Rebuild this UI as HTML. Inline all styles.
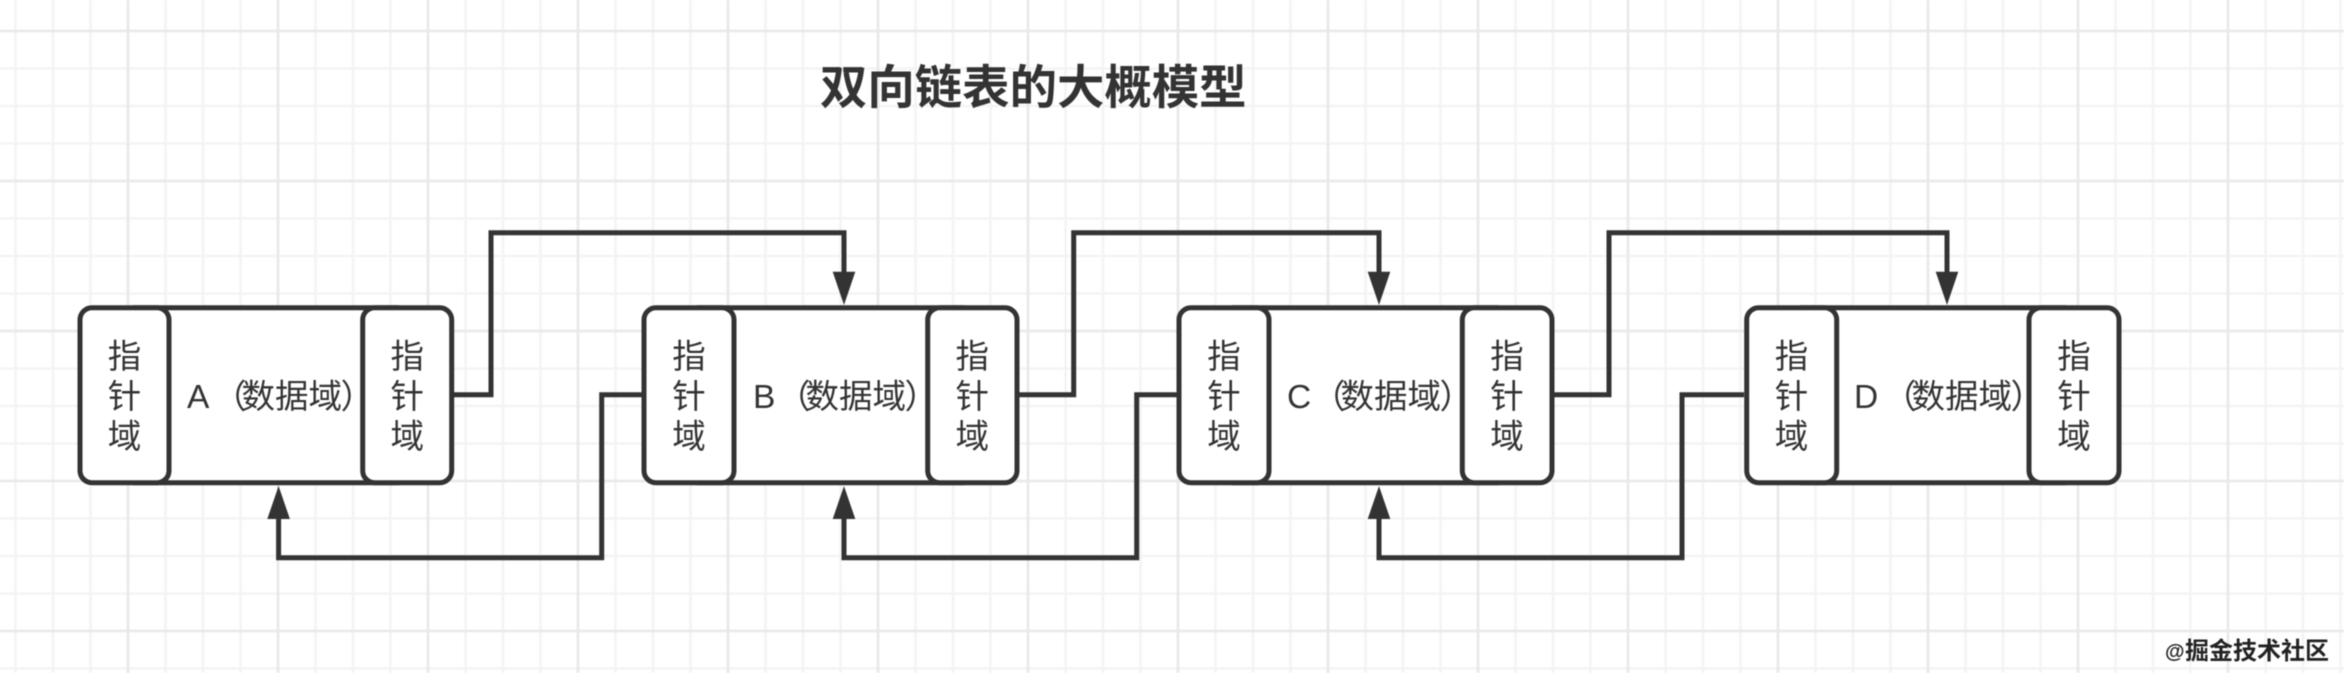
<!DOCTYPE html>
<html><head><meta charset="utf-8"><style>
html,body{margin:0;padding:0;background:#fff;width:2344px;height:673px;overflow:hidden}
svg{display:block;filter:blur(0.5px)}
text{font-family:"Liberation Sans","Noto Sans CJK SC",sans-serif;fill:#333}
.p{font-size:33.5px;text-anchor:middle}
.d{font-size:33.5px}
.b{fill:#fff;stroke:#333;stroke-width:5}
.c{fill:none;stroke:#333;stroke-width:5;stroke-linejoin:miter}
.a{fill:#333}
</style></head><body>
<svg width="2344" height="673" viewBox="0 0 2344 673" xmlns="http://www.w3.org/2000/svg">
<defs>
<pattern id="g1" width="37.5" height="37.5" patternUnits="userSpaceOnUse" patternTransform="translate(-3.25 -25.25)">
<path d="M0 18.75H37.5M18.75 0V37.5" stroke="#f4f4f4" stroke-width="2.6" fill="none"/>
</pattern>
<pattern id="g2" width="150" height="150" patternUnits="userSpaceOnUse" patternTransform="translate(53 -44)">
<path d="M0 75H150M75 0V150" stroke="#e9e9e9" stroke-width="2.6" fill="none"/>
</pattern>
</defs>
<rect width="2344" height="673" fill="#fff"/>
<rect width="2344" height="673" fill="url(#g1)"/>
<rect width="2344" height="673" fill="url(#g2)"/>

<text x="820" y="104" style="font-size:47.4px;font-weight:700">双向链表的大概模型</text>

<!-- connectors -->
<path class="c" d="M452 394.7H491V232.7H844V272"/>
<path class="c" d="M1017 394.7H1073.7V232.7H1379V272"/>
<path class="c" d="M1552 394.7H1609V232.7H1947V272"/>
<path class="c" d="M278.6 519V557.7H601.7V394.7H642"/>
<path class="c" d="M844 519V557.7H1136.7V394.7H1177"/>
<path class="c" d="M1379 519V557.7H1682V394.7H1744"/>
<polygon class="a" points="832.7,271.7 855.3,271.7 844,305"/>
<polygon class="a" points="1367.7,271.7 1390.3,271.7 1379,305"/>
<polygon class="a" points="1935.7,271.7 1958.3,271.7 1947,305"/>
<polygon class="a" points="267.3,519 289.9,519 278.6,486"/>
<polygon class="a" points="832.7,519 855.3,519 844,486"/>
<polygon class="a" points="1367.7,519 1390.3,519 1379,486"/>

<!-- Node A -->
<rect class="b" x="125" y="307.7" width="282" height="175" rx="9"/>
<rect class="b" x="80" y="307.7" width="89" height="175" rx="12"/>
<rect class="b" x="362.7" y="307.7" width="89" height="175" rx="12"/>
<text class="p" x="124.5" y="368">指</text><text class="p" x="124.5" y="408">针</text><text class="p" x="124.5" y="448">域</text>
<text class="p" x="407.2" y="368">指</text><text class="p" x="407.2" y="408">针</text><text class="p" x="407.2" y="448">域</text>
<text class="d" x="187" y="408">A<tspan x="213">（</tspan><tspan x="241.5">数据域</tspan><tspan x="340.5">）</tspan></text>

<!-- Node B -->
<rect class="b" x="689" y="307.7" width="283" height="175" rx="9"/>
<rect class="b" x="644" y="307.7" width="90" height="175" rx="12"/>
<rect class="b" x="927.7" y="307.7" width="89.3" height="175" rx="12"/>
<text class="p" x="689" y="368">指</text><text class="p" x="689" y="408">针</text><text class="p" x="689" y="448">域</text>
<text class="p" x="972.3" y="368">指</text><text class="p" x="972.3" y="408">针</text><text class="p" x="972.3" y="448">域</text>
<text class="d" x="753" y="408">B<tspan x="777">（</tspan><tspan x="805.5">数据域</tspan><tspan x="904.5">）</tspan></text>

<!-- Node C -->
<rect class="b" x="1224" y="307.7" width="283" height="175" rx="9"/>
<rect class="b" x="1179" y="307.7" width="90" height="175" rx="12"/>
<rect class="b" x="1462.3" y="307.7" width="89.7" height="175" rx="12"/>
<text class="p" x="1224" y="368">指</text><text class="p" x="1224" y="408">针</text><text class="p" x="1224" y="448">域</text>
<text class="p" x="1507" y="368">指</text><text class="p" x="1507" y="408">针</text><text class="p" x="1507" y="448">域</text>
<text class="d" x="1287" y="408">C<tspan x="1312">（</tspan><tspan x="1340.5">数据域</tspan><tspan x="1439.5">）</tspan></text>

<!-- Node D -->
<rect class="b" x="1792" y="307.7" width="282" height="175" rx="9"/>
<rect class="b" x="1746.7" y="307.7" width="90" height="175" rx="12"/>
<rect class="b" x="2029" y="307.7" width="90" height="175" rx="12"/>
<text class="p" x="1791.5" y="368">指</text><text class="p" x="1791.5" y="408">针</text><text class="p" x="1791.5" y="448">域</text>
<text class="p" x="2074" y="368">指</text><text class="p" x="2074" y="408">针</text><text class="p" x="2074" y="448">域</text>
<text class="d" x="1854" y="408">D<tspan x="1883">（</tspan><tspan x="1911.5">数据域</tspan><tspan x="2010.5">）</tspan></text>

<!-- Watermark -->
<text x="2165" y="658" style="font-size:20px;font-weight:700;fill:#222">@</text>
<text x="2185" y="659" style="font-size:24px;font-weight:700;fill:#222">掘金技术社区</text>
</svg>
</body></html>
